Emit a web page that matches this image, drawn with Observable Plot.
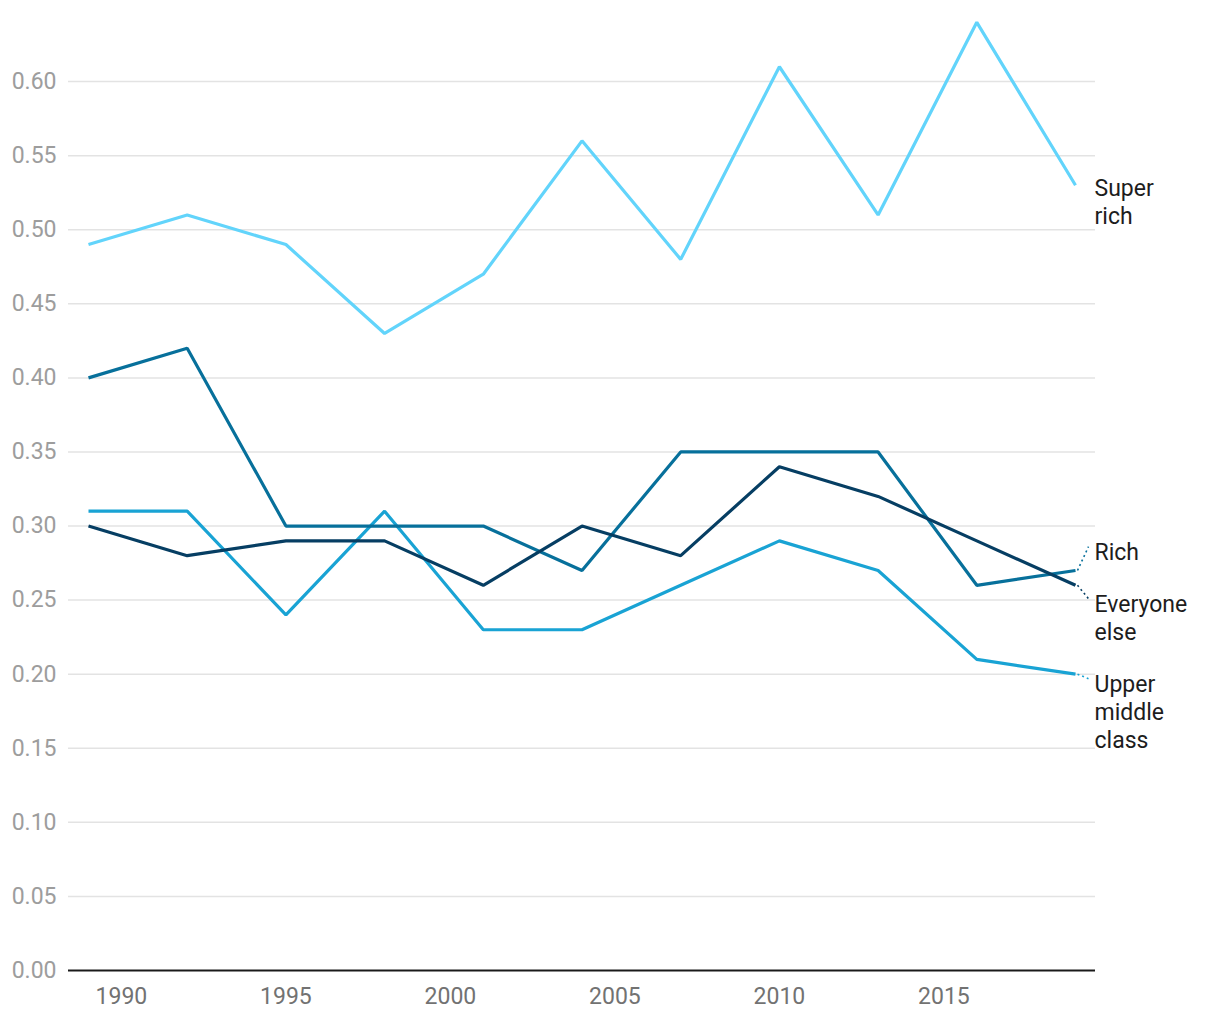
<!DOCTYPE html>
<html>
<head>
<meta charset="utf-8">
<script src="https://cdn.jsdelivr.net/npm/d3@7"></script>
<script src="https://cdn.jsdelivr.net/npm/@observablehq/plot@0.6"></script>
<style>
  html, body { margin: 0; padding: 0; background: #fff; }
  #chart { width: 1220px; height: 1020px; }
  #chart svg { font-family: Roboto, "Noto Sans", sans-serif; background: #fff; }
</style>
</head>
<body>
<div id="chart"></div>
<script>
// ---- Data ----
const years = [1989, 1992, 1995, 1998, 2001, 2004, 2007, 2010, 2013, 2016, 2019];
const superRich     = [0.49, 0.51, 0.49, 0.43, 0.47, 0.56, 0.48, 0.61, 0.51, 0.64, 0.53];
const rich          = [0.40, 0.42, 0.30, 0.30, 0.30, 0.27, 0.35, 0.35, 0.35, 0.26, 0.27];
const everyoneElse  = [0.30, 0.28, 0.29, 0.29, 0.26, 0.30, 0.28, 0.34, 0.32, 0.29, 0.26];
const upperMiddle   = [0.31, 0.31, 0.24, 0.31, 0.23, 0.23, 0.26, 0.29, 0.27, 0.21, 0.20];
const seriesNames   = ["Super rich", "Upper middle class", "Rich", "Everyone else"];
const seriesValues  = [superRich, upperMiddle, rich, everyoneElse];
const seriesLabels  = ["Super\nrich", "Upper\nmiddle\nclass", "Rich", "Everyone\nelse"];
const seriesColors  = ["#62d4fb", "#19a3d4", "#07709b", "#063e63"];
const xTicks = [1990, 1995, 2000, 2005, 2010, 2015];
const yTicks = [0, 0.05, 0.10, 0.15, 0.20, 0.25, 0.30, 0.35, 0.40, 0.45, 0.50, 0.55, 0.60];

// ---- Layout ----
const W = 1220, H = 1020;
const M = {top: 7, right: 125, bottom: 50, left: 68};
const insetX = 20;
const yDomain = [0, 0.65];
const xDomain = [years[0], years[years.length - 1]];
const labelFont = 23, lineH = 28, labelShift = 16, labelGap = 24;

const rows = seriesNames.flatMap((name, i) =>
  years.map((year, j) => ({series: name, year, value: seriesValues[i][j]})));

// scales (same as the chart's) for label placement
const yS = Plot.scale({y: {domain: yDomain, range: [H - M.bottom, M.top]}});
const xS = Plot.scale({x: {domain: xDomain, range: [M.left + insetX, W - M.right - insetX]}});
const lastYear = xDomain[1];

// label dodge: desired centre slightly below line end, clusters centred on mean
const items = seriesNames.map((name, i) => {
  const last = seriesValues[i][seriesValues[i].length - 1];
  const lines = seriesLabels[i].split("\n").length;
  return {name, label: seriesLabels[i], color: seriesColors[i], last,
          desired: yS.apply(last) + labelShift, h: lines * lineH};
}).sort((a, b) => a.desired - b.desired);

function layout(c) {
  const off = [0];
  for (let i = 1; i < c.items.length; i++)
    off[i] = off[i - 1] + c.items[i - 1].h / 2 + labelGap + c.items[i].h / 2;
  const start = d3.mean(c.items, (d, i) => d.desired - off[i]);
  c.items.forEach((d, i) => { d.center = start + off[i]; });
  c.top = c.items[0].center - c.items[0].h / 2;
  const l = c.items[c.items.length - 1];
  c.bottom = l.center + l.h / 2;
}
const clusters = [];
for (const it of items) {
  const c = {items: [it]}; layout(c); clusters.push(c);
  while (clusters.length > 1) {
    const b = clusters[clusters.length - 1], a = clusters[clusters.length - 2];
    if (a.bottom + labelGap > b.top) {
      clusters.splice(clusters.length - 2, 2);
      const m = {items: a.items.concat(b.items)}; layout(m); clusters.push(m);
    } else break;
  }
}
const labels = items.map(d => ({...d, yc: yS.invert(d.center)}));
const links = labels.filter(d => Math.abs(d.center - d.desired) > 1).map(d => ({
  ...d,
  x1: xS.invert(xS.apply(lastYear) + 2),
  x2: xS.invert(xS.apply(lastYear) + 13),
  y2: yS.invert(d.center - d.h / 2 + 10)
}));

const chart = Plot.plot({
  width: W, height: H,
  marginTop: M.top, marginRight: M.right, marginBottom: M.bottom, marginLeft: M.left,
  x: {domain: xDomain, insetLeft: insetX, insetRight: insetX},
  y: {domain: yDomain},
  color: {domain: seriesNames, range: seriesColors},
  marks: [
    Plot.gridY(yTicks.filter(t => t > 0), {stroke: "#e3e3e3", strokeOpacity: 1, strokeWidth: 1.5}),
    Plot.axisY(yTicks, {tickSize: 0, tickPadding: 12, fontSize: 23, fill: "#9d9d9d",
      tickFormat: d3.format(".2f"), label: null}),
    Plot.axisX(xTicks, {tickSize: 0, tickPadding: 17, fontSize: 23, fill: "#727272",
      tickFormat: d => String(d), label: null}),
    Plot.ruleY([0], {stroke: "#1a1a1a", strokeWidth: 2}),
    Plot.line(rows, {x: "year", y: "value", z: "series", stroke: "series",
      strokeWidth: 3.2, strokeLinejoin: "miter", strokeLinecap: "butt"}),
    Plot.link(links, {x1: "x1", y1: "last", x2: "x2", y2: "y2", stroke: "color",
      strokeWidth: 1.6, strokeDasharray: "2,3"}),
    Plot.text(labels, {x: () => lastYear, y: "yc", text: "label", dx: 19,
      textAnchor: "start", lineAnchor: "middle", lineHeight: lineH / labelFont,
      fontSize: labelFont, fill: "#1d1d1d"})
  ]
});
document.getElementById("chart").appendChild(chart);
</script>
</body>
</html>
